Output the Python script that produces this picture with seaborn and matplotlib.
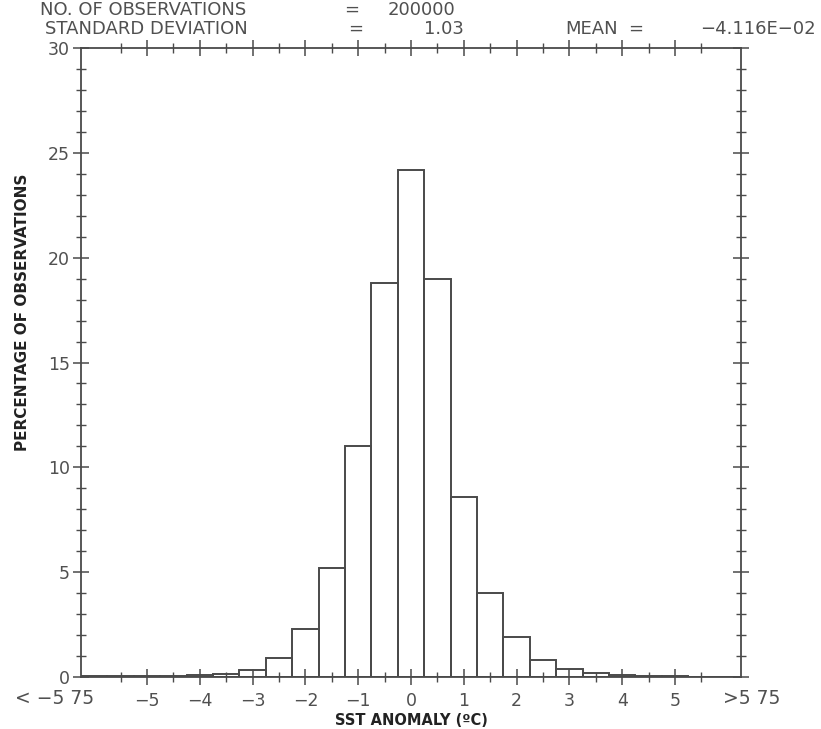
import numpy as np
import pandas as pd
import matplotlib
matplotlib.use("Agg")
import matplotlib.pyplot as plt
import seaborn as sns
from matplotlib.ticker import MultipleLocator, FixedLocator

# ---- data ----
bin_centers = [-6.0, -5.5, -5.0, -4.5, -4.0, -3.5, -3.0, -2.5, -2.0, -1.5, -1.0, -0.5,
               0.0, 0.5, 1.0, 1.5, 2.0, 2.5, 3.0, 3.5, 4.0, 4.5, 5.0, 5.5, 6.0]
percentages = [0.05, 0.03, 0.05, 0.05, 0.10, 0.15, 0.35, 0.90, 2.3, 5.2, 11.0, 18.8,
               24.2, 19.0, 8.6, 4.0, 1.9, 0.8, 0.4, 0.2, 0.1, 0.05, 0.03, 0.02, 0.02]
bin_edges = [c - 0.25 for c in bin_centers] + [bin_centers[-1] + 0.25]
x_tick_values = [-5, -4, -3, -2, -1, 0, 1, 2, 3, 4, 5]
x_tick_labels = ["\u22125", "\u22124", "\u22123", "\u22122", "\u22121", "0", "1", "2", "3", "4", "5"]
y_tick_values = [0, 5, 10, 15, 20, 25, 30]
header_n = "200000"
header_sd = "1.03"
header_mean = "\u22124.116E\u221202"

df = pd.DataFrame({"sst": bin_centers, "pct": percentages})

sns.set_style("white")
plt.rcParams["font.family"] = ["DejaVu Sans"]

ink = "#4a4a4a"
txt = "#505050"

fig = plt.figure(figsize=(8.21, 7.29), dpi=100)
ax = fig.add_axes([0.0987, 0.0713, 0.8039, 0.8628])

sns.histplot(data=df, x="sst", weights="pct", bins=bin_edges, element="bars",
             fill=False, color=ink, linewidth=1.4, ax=ax)

ax.set_xlim(-6.25, 6.25)
ax.set_ylim(0, 30)

for s in ax.spines.values():
    s.set_color(ink)
    s.set_linewidth(1.3)

# ticks
ax.xaxis.set_major_locator(FixedLocator(x_tick_values))
ax.set_xticklabels(x_tick_labels)
ax.xaxis.set_minor_locator(FixedLocator([v + 0.5 for v in range(-6, 6)]))
ax.yaxis.set_major_locator(FixedLocator(y_tick_values))
ax.set_yticklabels([str(v) for v in y_tick_values])
ax.yaxis.set_minor_locator(MultipleLocator(1))

ax.tick_params(axis="both", which="major", direction="inout", length=12, width=1.1,
               color=ink, labelcolor=txt, labelsize=12.5, top=True, right=True,
               bottom=True, left=True)
ax.tick_params(axis="both", which="minor", direction="inout", length=7, width=1.0,
               color=ink, top=True, right=True, bottom=True, left=True)
ax.tick_params(axis="x", which="major", pad=5)
ax.tick_params(axis="y", which="major", pad=2)

# end-bin labels
ax.text(-6.75, -0.55, "< \u22125 75", ha="center", va="top", fontsize=13.5,
        color=txt, clip_on=False)
ax.text(6.45, -0.55, ">5 75", ha="center", va="top", fontsize=13.5,
        color=txt, clip_on=False)

ax.set_xlabel("SST ANOMALY (\u00baC)", fontsize=10.5, fontweight="bold",
              color="#222", labelpad=2)
ax.set_ylabel("PERCENTAGE OF OBSERVATIONS", fontsize=11, fontweight="bold",
              color="#222")
ax.yaxis.set_label_coords(-0.077, 0.58)

# header
fs = 13


def put(xpix, ypix, s, ha="left"):
    fig.text(xpix / 821, 1 - ypix / 729, s, fontsize=fs, color=txt, va="center", ha=ha)


y1, y2 = 10, 29
put(40, y1, "NO. OF OBSERVATIONS")
put(352, y1, "=", ha="center")
put(388, y1, header_n)
put(45, y2, "STANDARD DEVIATION")
put(356, y2, "=", ha="center")
put(464, y2, header_sd, ha="right")
put(565, y2, "MEAN")
put(636, y2, "=", ha="center")
put(816, y2, header_mean, ha="right")

fig.savefig("out.png", dpi=100, facecolor="white")
